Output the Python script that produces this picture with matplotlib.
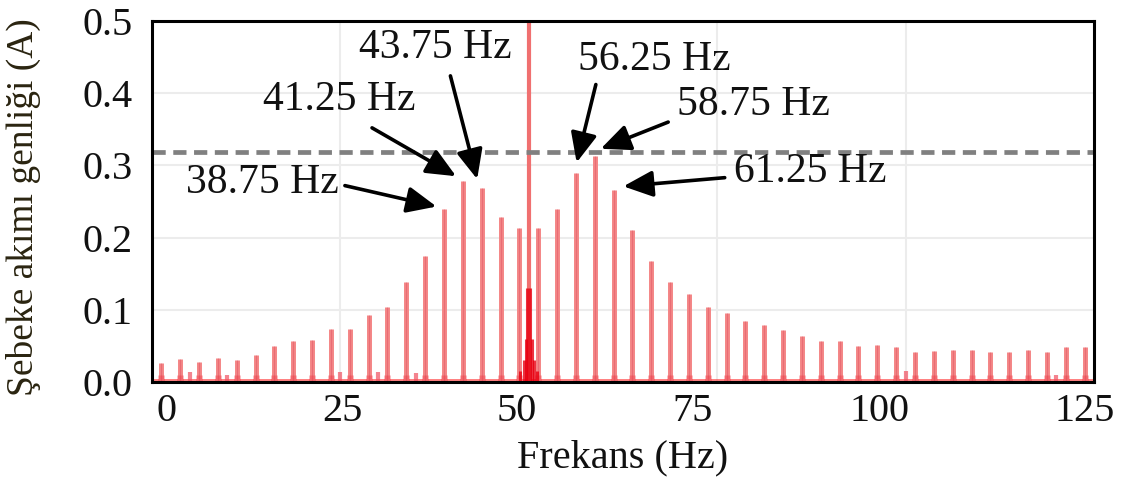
import matplotlib
matplotlib.use("Agg")
import matplotlib.pyplot as plt
from matplotlib.transforms import ScaledTranslation

# Grid-current spectrum: interharmonic lines every 2.5 Hz around the 50 Hz fundamental
line_freq = [1.25, 3.75, 6.25, 8.75, 11.25, 13.75, 16.25, 18.75, 21.25, 23.75,
             26.25, 28.75, 31.25, 33.75, 36.25, 38.75, 41.25, 43.75, 46.25, 48.75,
             51.25, 53.75, 56.25, 58.75, 61.25, 63.75, 66.25, 68.75, 71.25, 73.75,
             76.25, 78.75, 81.25, 83.75, 86.25, 88.75, 91.25, 93.75, 96.25, 98.75,
             101.25, 103.75, 106.25, 108.75, 111.25, 113.75, 116.25, 118.75, 121.25, 123.75]
line_amp = [0.027, 0.032, 0.028, 0.033, 0.031, 0.037, 0.050, 0.057, 0.058, 0.073,
            0.074, 0.093, 0.104, 0.139, 0.174, 0.239, 0.279, 0.269, 0.228, 0.213,
            0.213, 0.240, 0.290, 0.313, 0.266, 0.211, 0.167, 0.138, 0.122, 0.104,
            0.096, 0.084, 0.079, 0.072, 0.064, 0.057, 0.057, 0.050, 0.051, 0.048,
            0.041, 0.043, 0.045, 0.045, 0.042, 0.041, 0.044, 0.042, 0.049, 0.049]

# Fundamental component (off the scale)
fund_freq = 50.0
fund_amp = 1.0

# Leakage skirt around the fundamental
leak_freq = [48.9, 49.3, 49.6, 49.8, 50.2, 50.4, 50.7, 51.1]
leak_amp = [0.015, 0.03, 0.06, 0.13, 0.13, 0.06, 0.03, 0.015]

# Small secondary components
minor_freq = [5.0, 10.0, 25.0, 30.0, 35.0, 100.0, 120.0]
minor_amp = [0.014, 0.010, 0.014, 0.014, 0.012, 0.015, 0.010]

limit_level = 0.318

# Highlighted components
callout_freq = [38.75, 41.25, 43.75, 56.25, 58.75, 61.25]
callout_amp = [0.239, 0.279, 0.269, 0.290, 0.313, 0.266]
callout_text = ["38.75 Hz", "41.25 Hz", "43.75 Hz", "56.25 Hz", "58.75 Hz", "61.25 Hz"]
callout_tx = [14.6, 24.9, 37.6, 66.7, 79.8, 87.3]
callout_ty = [0.276, 0.391, 0.463, 0.446, 0.384, 0.291]
# arrow tails, in data units
tail_x = [25.6, 29.2, 39.6, 58.9, 68.5, 76.0]
tail_y = [0.272, 0.352, 0.424, 0.412, 0.360, 0.283]
tip_dx = [-1.0, -0.9, -0.6, 0.1, 0.8, 1.3]
tip_dy = [0.004, 0.006, 0.012, 0.014, 0.010, 0.005]

xticks = [0, 25, 50, 75, 100, 125]
yticks = [0.0, 0.1, 0.2, 0.3, 0.4, 0.5]
# horizontal nudges of the x tick labels, in pixels
xtick_shift = [15, 2, -12, -25, -26, -9]

plt.rcParams['font.family'] = ['Liberation Serif', 'DejaVu Serif']

fig = plt.figure(figsize=(11.41, 4.87), dpi=100)
ax = fig.add_axes([0.1332, 0.2156, 0.9588 - 0.1332, 0.9569 - 0.2156])

ax.set_xlim(0, 125)
ax.set_ylim(0, 0.5)

ax.grid(True, color='#ececec', lw=1.5, zorder=0)
ax.set_axisbelow(True)

# noise floor
ax.axhspan(0, 0.004, color='#ff3030', alpha=0.6, lw=0, zorder=1)

ax.vlines(minor_freq, 0, minor_amp, color='#f05060', lw=3.0, alpha=0.7, zorder=2)
ax.vlines(line_freq, 0, line_amp, color='#f48888', lw=3.6, zorder=3)
ax.vlines(line_freq, 0, line_amp, color='#e04a5c', lw=0.9, alpha=0.45, zorder=3)
ax.vlines(line_freq, 0, [0.01] * len(line_freq), color='#ee2030', lw=5, alpha=0.3, zorder=3)
ax.vlines([fund_freq], 0, [fund_amp], color='#f07070', lw=3.0, zorder=3)
ax.vlines(leak_freq, 0, leak_amp, color='#e80010', lw=2.2, alpha=0.8, zorder=3)

ax.axhline(limit_level, color='#808080', lw=3.4, dashes=(2.8, 1.6), zorder=4)

for f, a, t, tx, ty, sx, sy, dx, dy in zip(callout_freq, callout_amp, callout_text,
                                            callout_tx, callout_ty, tail_x, tail_y,
                                            tip_dx, tip_dy):
    ax.text(tx, ty, t, fontsize=30, ha='center', va='center', color='#111111', zorder=6)
    ax.annotate('', xy=(f + dx, a + dy), xytext=(sx, sy),
                arrowprops=dict(arrowstyle='-|>,head_length=0.9,head_width=0.4',
                                mutation_scale=20, color='black', lw=2.6,
                                shrinkA=0, shrinkB=0),
                zorder=6)

ax.set_xticks(xticks)
ax.set_xticklabels([str(v) for v in xticks])
ax.set_yticks(yticks)
ax.set_yticklabels([f"{v:.1f}" for v in yticks])
ax.tick_params(axis='x', length=0, labelsize=29, colors='#111111', pad=8)
ax.tick_params(axis='y', length=0, labelsize=29, colors='#111111', pad=14)

for lab, dxp in zip(ax.get_xticklabels(), xtick_shift):
    lab.set_transform(lab.get_transform() + ScaledTranslation(dxp / 100, 0, fig.dpi_scale_trans))

for s in ax.spines.values():
    s.set_linewidth(2.2)
    s.set_color('black')
    s.set_zorder(7)

ax.set_xlabel('Frekans (Hz)', fontsize=29, color='#111111')
ax.xaxis.set_label_coords(0.5, -0.21)
ax.xaxis.label.set_va('center')
ax.set_ylabel('Şebeke akımı genliği (A)', fontsize=27, color='#2a2410')
ax.yaxis.set_label_coords(-0.136, 0.485)
ax.yaxis.label.set_va('center')

fig.savefig('out.png', dpi=100)
